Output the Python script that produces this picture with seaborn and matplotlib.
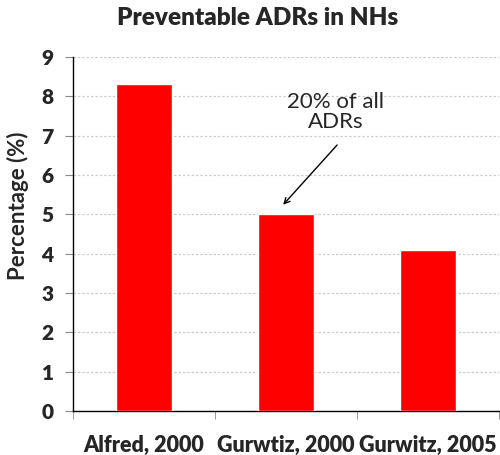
import matplotlib
matplotlib.use("Agg")
import matplotlib.pyplot as plt
import seaborn as sns
import pandas as pd

studies = ["Alfred, 2000", "Gurwtiz, 2000", "Gurwitz, 2005"]
percentages = [8.3, 5.0, 4.1]
y_ticks = [0, 1, 2, 3, 4, 5, 6, 7, 8, 9]

sns.set_style("white")
plt.rcParams["font.family"] = ["Lato", "DejaVu Sans"]

df = pd.DataFrame({"study": studies, "pct": percentages})

fig = plt.figure(figsize=(5.0, 4.55), dpi=100)
ax = fig.add_axes([0.146, 0.097, 0.852, 0.778])

sns.barplot(data=df, x="study", y="pct", color="#ff0000", saturation=1,
            width=0.4, ax=ax, zorder=3)

ax.set_xlim(-0.5, 2.5)
ax.set_ylim(0, 9)
ax.set_yticks(y_ticks)
ax.yaxis.grid(True, color="#cccccc", linestyle=(0, (2, 1.5)), linewidth=0.9, zorder=0)

for s in ["top", "right"]:
    ax.spines[s].set_visible(False)
for s in ["left", "bottom"]:
    ax.spines[s].set_color("black")
    ax.spines[s].set_linewidth(1.0)

ax.tick_params(axis="y", which="major", left=True, length=6, color="#888888",
               labelsize=15, pad=8)
for lab in ax.get_yticklabels():
    lab.set_fontweight("heavy")

# category boundary ticks on the x axis
ax.set_xticks([-0.5, 0.5, 1.5, 2.5], minor=True)
ax.tick_params(axis="x", which="minor", bottom=True, length=6, color="#888888")
ax.tick_params(axis="x", which="major", bottom=False, labelsize=15.5, pad=14)
for lab in ax.get_xticklabels():
    lab.set_fontweight("heavy")

ax.set_xlabel("")
ax.set_ylabel("Percentage (%)", fontsize=16, fontweight="bold")
ax.yaxis.set_label_coords(-0.104, 0.579)
fig.suptitle("Preventable ADRs in NHs", x=0.516, y=0.985, va="top",
             fontsize=17.5, fontweight="heavy")

ax.text(1.35, 7.6, "20% of all\nADRs", ha="center", va="center",
        fontsize=16, linespacing=1.05)
ax.annotate("", xy=(0.98, 5.24), xytext=(1.36, 6.76),
            arrowprops=dict(arrowstyle="->", color="black", lw=1,
                            shrinkA=0, shrinkB=0))

fig.savefig("out.png", dpi=100)
